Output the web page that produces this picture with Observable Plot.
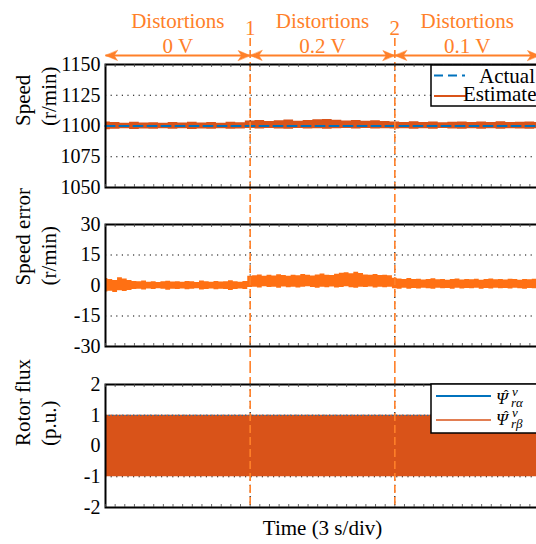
<!DOCTYPE html>
<html><head><meta charset="utf-8">
<script src="https://cdn.jsdelivr.net/npm/d3@7"></script>
<script src="https://cdn.jsdelivr.net/npm/@observablehq/plot@0.6"></script>
<style>
html,body{margin:0;padding:0;background:#fff;}
#wrap{width:536px;height:544px;overflow:hidden;position:relative;background:#fff;}
#wrap svg{display:block;}
#wrap svg, #wrap svg text{font-family:"Liberation Serif","DejaVu Serif","Noto Serif",serif;}
</style></head><body><div id="wrap"></div>
<script>
// ---------------- data ----------------
const segStart = [0, 15, 30];
const segEnd = [15, 30, 45];
const segLabel = ["0 V", "0.2 V", "0.1 V"];
const switchTimes = [15, 30];
const switchNames = ["1", "2"];
const timeDomain = [0, 45];
const minorTicks = d3.range(0, 46, 1);

const speedTicks = [1050, 1075, 1100, 1125, 1150];
const errTicks = [-30, -15, 0, 15, 30];
const fluxTicks = [-2, -1, 0, 1, 2];

// actual speed (r/min)
const actualTime = [0, 45];
const actualSpeed = [1100, 1100];

// estimated speed band (1 s samples, r/min)
const speedUpper = [1103.2,1102.8,1102.3,1103.0,1102.4,1102.7,1102.2,1102.9,1102.5,1103.1,1102.4,1102.8,1102.2,1103.0,1102.6,
  1104.0,1104.4,1103.7,1104.2,1104.8,1103.9,1104.5,1105.0,1105.3,1104.6,1104.0,1104.4,1103.8,1104.2,1103.7,
  1103.3,1102.9,1103.4,1102.8,1103.2,1102.7,1103.1,1103.3,1102.8,1103.2,1102.9,1103.4,1102.8,1103.1,1103.3,1102.9];
const speedLower = [1097.0,1097.4,1097.7,1097.2,1097.6,1097.3,1097.8,1097.4,1097.7,1097.2,1097.6,1097.3,1097.8,1097.4,1097.6,
  1097.9,1097.5,1098.0,1097.6,1097.4,1097.9,1097.5,1097.8,1097.3,1097.7,1098.0,1097.5,1097.9,1097.6,1097.8,
  1097.5,1097.8,1097.3,1097.7,1097.4,1097.9,1097.6,1097.3,1097.8,1097.4,1097.7,1097.3,1097.8,1097.5,1097.4,1097.7];

// speed error band (0.5 s samples, r/min)
const errUpper = [3.5,3.0,2.5,3.8,3.2,2.4,2.0,1.8,2.2,1.6,1.9,1.5,1.8,2.1,1.7,1.9,1.6,2.0,1.8,1.5,2.2,1.9,1.6,2.0,1.7,1.8,2.3,1.9,1.6,2.0,
  4.5,4.8,5.2,4.6,5.0,4.7,5.3,4.9,4.6,5.1,4.8,5.4,5.0,4.7,5.2,5.6,5.1,4.9,5.5,6.0,6.3,5.8,6.5,5.9,5.2,5.0,5.4,4.9,5.1,4.8,
  3.6,3.2,3.0,3.4,2.9,3.1,2.7,3.0,3.3,2.8,3.0,2.6,2.9,3.2,2.7,3.0,2.8,3.1,2.6,2.9,3.2,2.8,3.0,2.7,3.1,2.9,2.6,3.0,2.8,3.1,2.9];
const errLower = [-3.2,-2.8,-3.5,-2.6,-3.0,-2.4,-2.0,-1.8,-2.2,-1.7,-2.0,-1.6,-1.9,-2.3,-1.8,-2.0,-1.7,-2.1,-1.9,-1.6,-2.2,-2.0,-1.7,-2.1,-1.8,-2.0,-2.4,-2.0,-1.7,-2.0,
  -1.0,-0.8,-1.2,-0.6,-1.0,-0.9,-1.3,-0.7,-1.1,-0.8,-1.2,-0.9,-0.6,-1.0,-1.3,-0.8,-1.1,-0.7,-1.2,-1.0,-0.6,-1.1,-1.4,-0.9,-1.0,-0.7,-1.2,-0.9,-1.1,-0.8,
  -1.6,-1.8,-1.4,-1.9,-1.5,-1.7,-1.3,-1.6,-1.8,-1.4,-1.6,-1.5,-1.8,-1.3,-1.7,-1.5,-1.6,-1.4,-1.8,-1.5,-1.7,-1.3,-1.6,-1.5,-1.7,-1.4,-1.6,-1.8,-1.5,-1.6,-1.4];

// rotor flux envelope (p.u.)
const fluxTime = [0, 45];
const fluxAlphaAmp = 1.0;
const fluxBetaAmp = 1.0;

// ---------------- tables ----------------
const segs = segStart.map((s, i) => ({start: s, end: segEnd[i], label: segLabel[i], mid: (s + segEnd[i]) / 2}));
const heads = segs.flatMap(d => [{x: d.start, rot: 90}, {x: d.end, rot: -90}]);
const switches = switchTimes.map((t, i) => ({t, n: switchNames[i]}));
const actualData = actualTime.map((t, i) => ({t, v: actualSpeed[i]}));
const speedData = speedUpper.map((hi, i) => ({t: i, hi, lo: speedLower[i]}));
const errData = errUpper.map((hi, i) => ({t: i * 0.5, hi, lo: errLower[i]}));
const fluxData = fluxTime.map(t => ({t, hi: fluxBetaAmp, lo: -fluxBetaAmp}));

// ---------------- style ----------------
const W = 545, ML = 105, MR = 6;
const ann = "#FF8029", est = "#D95319", errC = "#FF7013", blue = "#0072BD";
const font = '"Liberation Serif", "DejaVu Serif", "Noto Serif", serif';
const style = {fontFamily: font, fontSize: "20px", maxWidth: "none", background: "white", overflow: "visible"};
const gridOpts = {stroke: "black", strokeOpacity: 1, strokeDasharray: "1.2,4.4", strokeWidth: 1.1};

const stealth = {
  draw(context, l, r) {
    context.moveTo(0, 0);
    context.lineTo(r, -l);
    context.lineTo(0, -l * 0.72);
    context.lineTo(-r, -l);
    context.closePath();
  }
};

function commonMarks(gridTicks) {
  return [
    Plot.gridY(gridTicks, gridOpts),
    Plot.gridX(switchTimes, gridOpts),
  ];
}
function overlayMarks(h, ticks, label, extTop, extBottom) {
  return [
    Plot.ruleX(switchTimes, {stroke: ann, strokeWidth: 1.6, strokeDasharray: "8,4", insetTop: -extTop, insetBottom: -extBottom}),
    Plot.frame({stroke: "black", strokeWidth: 2}),
    Plot.tickX(minorTicks, {insetTop: h - 3, stroke: "#444", strokeWidth: 0.8}),
    Plot.tickX(minorTicks, {insetBottom: h - 3, stroke: "#444", strokeWidth: 0.8}),
    Plot.axisY({ticks, tickSize: 0, tickPadding: 5, tickFormat: d => String(d), fontSize: 20, label: null, fontFamily: font}),
    Plot.text([label], {text: d => d, frameAnchor: "left", rotate: -90, dx: -71, lineAnchor: "middle", fontSize: 21, lineHeight: 1.24, fill: "black", fontFamily: font})
  ];
}

// Panel 1: speed
const p1 = Plot.plot({
  width: W, height: 205, marginLeft: ML, marginRight: MR, marginTop: 64, marginBottom: 18,
  x: {domain: timeDomain, axis: null}, y: {domain: [1050, 1150], axis: null}, style,
  marks: [
    ...commonMarks([1075, 1100, 1125]),
    Plot.areaY(speedData, {x: "t", y1: "lo", y2: "hi", fill: est, curve: "step"}),
    Plot.lineY(actualData, {x: "t", y: "v", stroke: blue, strokeWidth: 2.2, strokeDasharray: "9,5"}),
    ...overlayMarks(123, speedTicks, "Speed\n(r/min)", 26, 18),
    Plot.link(segs, {x1: "start", x2: "end", y1: 1150, y2: 1150, dy: -9, stroke: ann, strokeWidth: 2}),
    Plot.vector(heads, {x: "x", y: 1150, dy: -9, rotate: "rot", length: 12, r: 5, anchor: "start", shape: stealth, fill: ann, stroke: ann, strokeWidth: 0.5}),
    Plot.text(segs, {x: "mid", y: 1150, text: () => "Distortions", dy: -37, lineAnchor: "bottom", fill: ann, fontSize: 21, fontFamily: font}),
    Plot.text(segs, {x: "mid", y: 1150, text: "label", dy: -12, lineAnchor: "bottom", fill: ann, fontSize: 21, fontFamily: font}),
    Plot.text(switches, {x: "t", y: 1150, text: "n", dy: -30, lineAnchor: "bottom", fill: ann, fontSize: 21, fontFamily: font})
  ]
});

// Panel 2: speed error
const p2 = Plot.plot({
  width: W, height: 160, marginLeft: ML, marginRight: MR, marginTop: 19, marginBottom: 19,
  x: {domain: timeDomain, axis: null}, y: {domain: [-30, 30], axis: null}, style,
  marks: [
    ...commonMarks([-15, 0, 15]),
    Plot.areaY(errData, {x: "t", y1: "lo", y2: "hi", fill: errC, curve: "step"}),
    ...overlayMarks(122, errTicks, "Speed error\n(r/min)", 19, 19)
  ]
});

// Panel 3: rotor flux
const p3 = Plot.plot({
  width: W, height: 179, marginLeft: ML, marginRight: MR, marginTop: 19, marginBottom: 37,
  x: {domain: timeDomain, axis: null}, y: {domain: [-2, 2], axis: null}, style,
  marks: [
    ...commonMarks([-1, 0, 1]),
    Plot.areaY(fluxData, {x: "t", y1: "lo", y2: "hi", fill: est}),
    Plot.ruleY([fluxAlphaAmp], {stroke: blue, strokeWidth: 1, strokeDasharray: "1.5,2"}),
    ...overlayMarks(123, fluxTicks, "Rotor flux\n(p.u.)", 19, 0),
    Plot.text(["Time (3 s/div)"], {text: d => d, frameAnchor: "bottom", dy: 27, lineAnchor: "bottom", fontSize: 21, fill: "black", fontFamily: font})
  ]
});

const wrap = document.getElementById("wrap");
[p1, p2, p3].forEach(p => wrap.appendChild(p));

// legends
function legendBox(svg, y, h) {
  svg.append("rect").attr("x", 431).attr("y", y).attr("width", 200).attr("height", h)
    .attr("fill", "white").attr("stroke", "black").attr("stroke-width", 1.5);
}
const s1 = d3.select(p1);
legendBox(s1, 65, 41);
s1.append("line").attr("x1", 434).attr("x2", 465).attr("y1", 75.5).attr("y2", 75.5)
  .attr("stroke", blue).attr("stroke-width", 2).attr("stroke-dasharray", "9,5");
s1.append("text").attr("x", 507).attr("y", 83).attr("text-anchor", "middle").attr("font-size", 21).style("font-family", font).text("Actual");
s1.append("line").attr("x1", 434).attr("x2", 466).attr("y1", 96).attr("y2", 96)
  .attr("stroke", est).attr("stroke-width", 2);
s1.append("text").attr("x", 505).attr("y", 101).attr("text-anchor", "middle").attr("font-size", 21).style("font-family", font).text("Estimated");

const s3 = d3.select(p3);
legendBox(s3, 19, 49);
s3.append("line").attr("x1", 436).attr("x2", 491).attr("y1", 31).attr("y2", 31).attr("stroke", blue).attr("stroke-width", 2);
s3.append("line").attr("x1", 436).attr("x2", 491).attr("y1", 55).attr("y2", 55).attr("stroke", est).attr("stroke-width", 1.5);
function psi(y, sub) {
  const g = s3.append("g").style("font-family", font).attr("font-style", "italic").attr("text-anchor", "start");
  g.append("text").attr("x", 496).attr("y", y).attr("font-size", 17).text("\u03A8");
  g.append("text").attr("x", 506).attr("y", y - 4).attr("font-size", 14).attr("font-style", "normal").attr("text-anchor", "middle").text("\u02C6");
  g.append("text").attr("x", 512).attr("y", y - 8).attr("font-size", 13).text("v");
  g.append("text").attr("x", 511).attr("y", y + 3).attr("font-size", 13).text(sub);
}
psi(39, "r\u03B1");
psi(60, "r\u03B2");
</script>
</body></html>
